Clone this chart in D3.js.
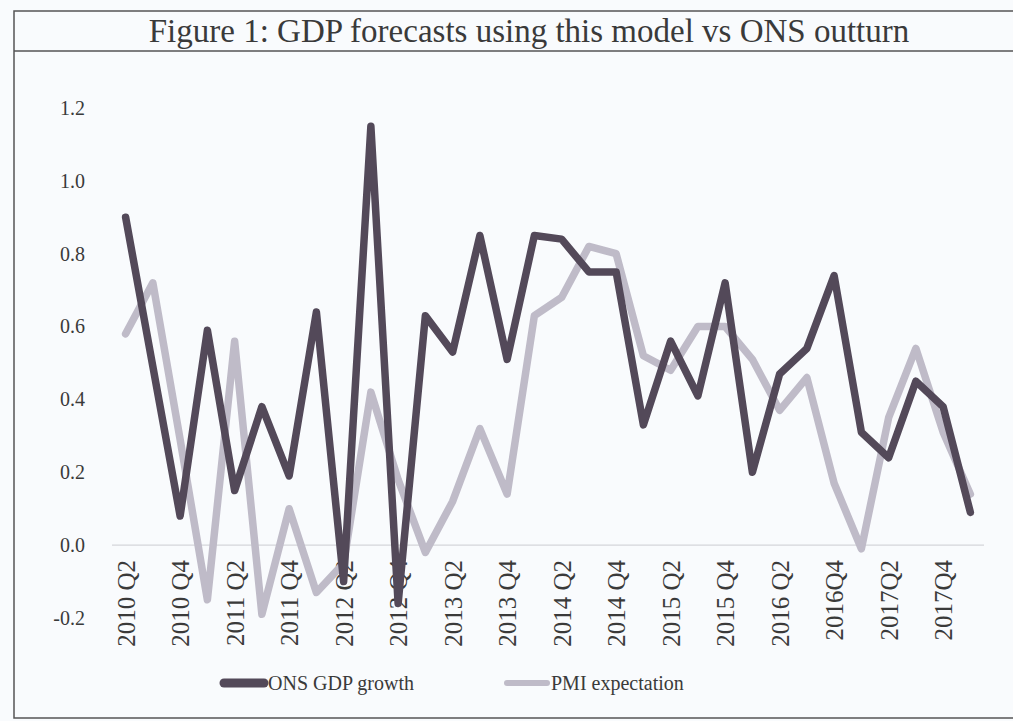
<!DOCTYPE html>
<html>
<head>
<meta charset="utf-8">
<script src="https://cdn.jsdelivr.net/npm/d3@7/dist/d3.min.js"></script>
<style>
  html, body { margin: 0; padding: 0; background: #f9fbfd; }
  svg { display: block; }
  text { font-family: "Liberation Serif", "DejaVu Serif", serif; fill: #3a3a3a; }
</style>
</head>
<body>
<svg id="chart" width="1013" height="721"></svg>
<script>
const title = "Figure 1: GDP forecasts using this model vs ONS outturn";

const quarters = [
  "2010 Q2","2010 Q3","2010 Q4","2011 Q1","2011 Q2","2011 Q3","2011 Q4","2012 Q1",
  "2012 Q2","2012 Q3","2012 Q4","2013 Q1","2013 Q2","2013 Q3","2013 Q4","2014 Q1",
  "2014 Q2","2014 Q3","2014 Q4","2015 Q1","2015 Q2","2015 Q3","2015 Q4","2016 Q1",
  "2016 Q2","2016 Q3","2016Q4","2017 Q1","2017Q2","2017 Q3","2017Q4","2018 Q1"
];

const onsGdp = [
  0.90, 0.49, 0.08, 0.59, 0.15, 0.38, 0.19, 0.64,
  -0.10, 1.15, -0.16, 0.63, 0.53, 0.85, 0.51, 0.85,
  0.84, 0.75, 0.75, 0.33, 0.56, 0.41, 0.72, 0.20,
  0.47, 0.54, 0.74, 0.31, 0.24, 0.45, 0.38, 0.09
];

const pmiExpectation = [
  0.58, 0.72, 0.29, -0.15, 0.56, -0.19, 0.10, -0.13,
  -0.05, 0.42, 0.18, -0.02, 0.12, 0.32, 0.14, 0.63,
  0.68, 0.82, 0.80, 0.52, 0.48, 0.60, 0.60, 0.51,
  0.37, 0.46, 0.17, -0.01, 0.35, 0.54, 0.31, 0.14
];

const yTicks = [-0.2, 0.0, 0.2, 0.4, 0.6, 0.8, 1.0, 1.2];
const xTickLabels = quarters.filter((q, i) => i % 2 === 0);

const seriesNames = ["ONS GDP growth", "PMI expectation"];
const seriesColors = ["#534959", "#bfbbc8"];

const svg = d3.select("#chart");

// frame
svg.append("rect").attr("x", 14).attr("y", 11).attr("width", 1010).attr("height", 707)
  .attr("fill", "none").attr("stroke", "#555").attr("stroke-width", 1.5);
svg.append("line").attr("x1", 14).attr("x2", 1013).attr("y1", 51).attr("y2", 51)
  .attr("stroke", "#555").attr("stroke-width", 1.5);

svg.append("text").attr("x", 529).attr("y", 42).attr("text-anchor", "middle")
  .style("font-size", "33px").text(title);

const x = d3.scalePoint().domain(quarters).range([112, 984]).padding(0.5);
const y = d3.scaleLinear().domain([-0.2, 1.2]).range([618, 108]);

// y tick labels
const yAxis = d3.axisLeft(y).tickValues(yTicks)
  .tickFormat(d => d.toFixed(1)).tickSize(0).tickPadding(0);
const gy = svg.append("g").attr("transform", "translate(85,0)").call(yAxis);
gy.select(".domain").remove();
gy.selectAll("text").style("font-size", "20px").style("font-family", '"Liberation Serif", serif').attr("fill", "#3a3a3a");

// zero line
svg.append("line").attr("x1", 112).attr("x2", 984).attr("y1", y(0)).attr("y2", y(0))
  .attr("stroke", "#d4d6da").attr("stroke-width", 1.2);

// x tick labels
const xAxis = d3.axisBottom(x).tickValues(xTickLabels).tickSize(0).tickPadding(0);
const gx = svg.append("g").attr("transform", "translate(0,560)").call(xAxis);
gx.select(".domain").remove();
gx.selectAll("text")
  .attr("transform", "rotate(-90)")
  .attr("text-anchor", "end")
  .attr("x", 0).attr("y", 0).attr("dy", "0.35em")
  .style("font-size", "25px").style("font-family", '"Liberation Serif", serif').attr("fill", "#3a3a3a");

// lines
const line = d3.line().x((d, i) => x(quarters[i])).y(d => y(d));
[pmiExpectation, onsGdp].forEach((s, k) => {
  svg.append("path").datum(s).attr("d", line)
    .attr("fill", "none").attr("stroke", k === 0 ? seriesColors[1] : seriesColors[0])
    .attr("stroke-width", 7.5).attr("stroke-linecap", "round").attr("stroke-linejoin", "round");
});

// legend
const legendX = [224, 507];
seriesNames.forEach((name, i) => {
  svg.append("line").attr("x1", legendX[i]).attr("x2", legendX[i] + 40)
    .attr("y1", 683).attr("y2", 683)
    .attr("stroke", seriesColors[i]).attr("stroke-width", i === 0 ? 9 : 6).attr("stroke-linecap", "round");
  svg.append("text").attr("x", legendX[i] + 44).attr("y", 690)
    .style("font-size", "20px").text(name);
});
</script>
</body>
</html>
